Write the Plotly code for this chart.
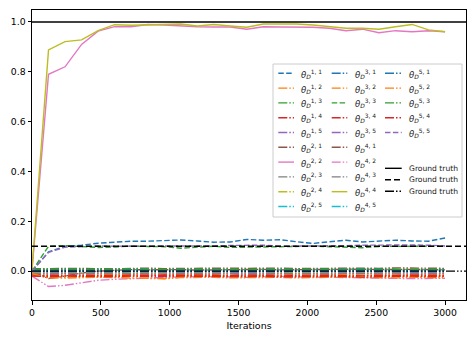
import plotly.graph_objects as go

# iterations (x)
iters = [0, 120, 240, 360, 480, 600, 720, 840, 960, 1080, 1200, 1320, 1440,
         1560, 1680, 1800, 1920, 2040, 2160, 2280, 2400, 2520, 2640, 2760, 2880, 3000]

# estimated theta_D^{i,j}
t11 = [0.0, 0.077, 0.1, 0.104, 0.112, 0.117, 0.12, 0.12, 0.123, 0.125, 0.121, 0.116, 0.117,
       0.127, 0.124, 0.126, 0.118, 0.111, 0.118, 0.124, 0.117, 0.12, 0.124, 0.121, 0.12, 0.133]
t12 = [-0.015, -0.025, -0.028, -0.026, -0.022, -0.02, -0.021, -0.024, -0.03, -0.022, -0.02, -0.021, -0.023,
       -0.02, -0.019, -0.022, -0.024, -0.021, -0.02, -0.022, -0.025, -0.021, -0.02, -0.023, -0.022, -0.021]
t13 = [0.005, 0.006, 0.004, 0.005, 0.006, 0.007, 0.005, 0.004, 0.006, 0.007, 0.006, 0.004, 0.005,
       0.006, 0.005, 0.004, 0.006, 0.005, 0.004, 0.006, 0.007, 0.005, 0.004, 0.006, 0.005, 0.005]
t14 = [-0.01, -0.012, -0.01, -0.009, -0.011, -0.012, -0.01, -0.011, -0.013, -0.012, -0.01, -0.009, -0.011,
       -0.012, -0.01, -0.011, -0.012, -0.01, -0.013, -0.011, -0.01, -0.012, -0.011, -0.013, -0.012, -0.011]
t15 = [0.0, -0.002, 0.001, 0.0, -0.001, 0.002, 0.001, -0.001, 0.0, 0.002, 0.001, 0.0, -0.002,
       0.001, 0.0, 0.001, -0.001, 0.002, 0.0, -0.001, 0.001, 0.002, 0.0, -0.001, 0.001, 0.0]
t21 = [0.0, -0.03, -0.02, -0.008, 0.0, 0.004, 0.006, 0.005, 0.007, 0.006, 0.004, 0.005, 0.006,
       0.008, 0.007, 0.005, 0.006, 0.007, 0.005, 0.006, 0.008, 0.006, 0.005, 0.007, 0.006, 0.005]
t22 = [0.005, 0.79, 0.82, 0.91, 0.963, 0.981, 0.981, 0.99, 0.988, 0.983, 0.981, 0.98, 0.98,
       0.971, 0.981, 0.98, 0.981, 0.979, 0.975, 0.965, 0.971, 0.957, 0.965, 0.961, 0.965, 0.961]
t23 = [0.002, 0.0, -0.002, 0.001, 0.0, -0.001, 0.002, 0.001, 0.0, -0.002, 0.001, 0.0, 0.001,
       -0.001, 0.002, 0.0, 0.001, -0.002, 0.0, 0.001, 0.002, 0.0, -0.001, 0.001, 0.0, 0.001]
t24 = [-0.005, -0.006, -0.004, -0.005, -0.007, -0.006, -0.004, -0.005, -0.006, -0.007, -0.005, -0.004, -0.006,
       -0.005, -0.004, -0.006, -0.007, -0.005, -0.004, -0.006, -0.005, -0.007, -0.006, -0.004, -0.005, -0.006]
t25 = [0.003, 0.002, 0.001, 0.003, 0.002, 0.0, 0.001, 0.003, 0.002, 0.001, 0.0, 0.002, 0.003,
       0.001, 0.002, 0.0, 0.001, 0.003, 0.002, 0.001, 0.0, 0.002, 0.003, 0.001, 0.002, 0.001]
t31 = [0.008, 0.004, 0.006, 0.008, 0.007, 0.005, 0.006, 0.008, 0.007, 0.005, 0.006, 0.007, 0.008,
       0.006, 0.005, 0.007, 0.008, 0.006, 0.005, 0.007, 0.006, 0.008, 0.007, 0.005, 0.006, 0.007]
t32 = [-0.02, -0.018, -0.02, -0.017, -0.015, -0.014, -0.016, -0.015, -0.017, -0.016, -0.014, -0.015, -0.017,
       -0.016, -0.015, -0.014, -0.016, -0.017, -0.015, -0.014, -0.016, -0.015, -0.017, -0.016, -0.015, -0.016]
t33 = [0.0, 0.1, 0.102, 0.098, 0.095, 0.097, 0.1, 0.099, 0.098, 0.092, 0.097, 0.1, 0.095,
       0.096, 0.1, 0.101, 0.099, 0.1, 0.098, 0.097, 0.094, 0.099, 0.1, 0.098, 0.1, 0.1]
t34 = [-0.015, -0.018, -0.016, -0.017, -0.019, -0.018, -0.016, -0.017, -0.019, -0.018, -0.016, -0.017, -0.018,
       -0.016, -0.017, -0.019, -0.018, -0.016, -0.017, -0.018, -0.019, -0.017, -0.016, -0.018, -0.017, -0.018]
t35 = [-0.003, -0.005, -0.004, -0.003, -0.005, -0.004, -0.002, -0.003, -0.005, -0.004, -0.003, -0.002, -0.004,
       -0.005, -0.003, -0.004, -0.002, -0.003, -0.005, -0.004, -0.003, -0.002, -0.004, -0.005, -0.003, -0.004]
t41 = [0.01, 0.009, 0.011, 0.012, 0.01, 0.009, 0.011, 0.012, 0.01, 0.011, 0.009, 0.01, 0.012,
       0.011, 0.013, 0.012, 0.01, 0.009, 0.011, 0.012, 0.01, 0.011, 0.013, 0.012, 0.01, 0.011]
t42 = [-0.02, -0.062, -0.057, -0.048, -0.037, -0.033, -0.03, -0.028, -0.025, -0.023, -0.022, -0.021, -0.023,
       -0.025, -0.022, -0.021, -0.023, -0.024, -0.026, -0.028, -0.03, -0.031, -0.029, -0.03, -0.028, -0.029]
t43 = [-0.01, -0.008, -0.009, -0.01, -0.008, -0.007, -0.009, -0.01, -0.008, -0.009, -0.007, -0.008, -0.01,
       -0.009, -0.008, -0.007, -0.009, -0.01, -0.008, -0.009, -0.01, -0.008, -0.007, -0.009, -0.008, -0.009]
t44 = [0.005, 0.888, 0.921, 0.928, 0.965, 0.989, 0.987, 0.989, 0.99, 0.992, 0.984, 0.99, 0.984,
       0.979, 0.992, 0.992, 0.992, 0.988, 0.981, 0.975, 0.975, 0.971, 0.981, 0.99, 0.968, 0.961]
t45 = [0.0, 0.002, 0.0, -0.001, 0.001, 0.0, -0.002, 0.001, 0.0, 0.002, -0.001, 0.0, 0.001,
       0.0, -0.001, 0.002, 0.0, 0.001, -0.001, 0.0, 0.002, 0.001, 0.0, -0.001, 0.001, 0.0]
t51 = [0.004, 0.0, 0.002, 0.003, 0.001, 0.002, 0.0, 0.003, 0.002, 0.001, 0.003, 0.002, 0.0,
       0.002, 0.003, 0.001, 0.002, 0.0, 0.003, 0.002, 0.001, 0.003, 0.002, 0.0, 0.002, 0.003]
t52 = [-0.01, -0.028, -0.025, -0.022, -0.024, -0.026, -0.025, -0.027, -0.031, -0.026, -0.024, -0.025, -0.027,
       -0.026, -0.024, -0.025, -0.027, -0.026, -0.025, -0.024, -0.026, -0.028, -0.027, -0.025, -0.026, -0.027]
t53 = [0.008, 0.01, 0.009, 0.008, 0.007, 0.009, 0.01, 0.008, 0.007, 0.009, 0.008, 0.01, 0.009,
       0.007, 0.008, 0.01, 0.009, 0.008, 0.007, 0.009, 0.01, 0.008, 0.009, 0.007, 0.008, 0.009]
t54 = [-0.02, -0.022, -0.02, -0.021, -0.023, -0.022, -0.02, -0.021, -0.022, -0.02, -0.019, -0.021, -0.022,
       -0.02, -0.021, -0.023, -0.022, -0.02, -0.021, -0.022, -0.024, -0.022, -0.021, -0.02, -0.022, -0.021]
t55 = [0.0, 0.075, 0.096, 0.1, 0.101, 0.1, 0.1, 0.101, 0.1, 0.099, 0.1, 0.101, 0.103,
       0.105, 0.104, 0.1, 0.1, 0.101, 0.1, 0.102, 0.104, 0.105, 0.104, 0.105, 0.104, 0.101]

# ground truth levels and the span of the x axis
gt_levels = [1.0, 0.1, 0.0]
gt_span = [0, 3152]

series = {
    (1, 1): t11, (1, 2): t12, (1, 3): t13, (1, 4): t14, (1, 5): t15,
    (2, 1): t21, (2, 2): t22, (2, 3): t23, (2, 4): t24, (2, 5): t25,
    (3, 1): t31, (3, 2): t32, (3, 3): t33, (3, 4): t34, (3, 5): t35,
    (4, 1): t41, (4, 2): t42, (4, 3): t43, (4, 4): t44, (4, 5): t45,
    (5, 1): t51, (5, 2): t52, (5, 3): t53, (5, 4): t54, (5, 5): t55,
}

tab10 = ['#1f77b4', '#ff7f0e', '#2ca02c', '#d62728', '#9467bd',
         '#8c564b', '#e377c2', '#7f7f7f', '#bcbd22', '#17becf']
DASHED = '5.5px,2.4px'
DASHDOT = '9px,2px,1.5px,2px,1.5px,2px'
FONT = 'DejaVu Sans'


def style(i, j):
    if (i, j) in [(2, 2), (4, 4)]:
        return 'solid'
    if (i, j) in [(1, 1), (3, 3), (5, 5)]:
        return DASHED
    return DASHDOT


fig = go.Figure()
k = 0
for (i, j), ys in series.items():
    fig.add_trace(go.Scatter(x=iters, y=ys, mode='lines', showlegend=False,
                             line=dict(color=tab10[k % 10], width=1.4, dash=style(i, j))))
    k += 1

gt_dash = ['solid', '6px,3px', DASHDOT]
for lv, d in zip(gt_levels, gt_dash):
    fig.add_trace(go.Scatter(x=gt_span, y=[lv, lv], mode='lines', showlegend=False,
                             line=dict(color='black', width=1.4, dash=d)))

# the page body has an 8px margin, so the figure is made smaller and
# everything below is given in window pixels
PAGE = 8
W, H = 476 - PAGE, 340 - PAGE
L, R, T, B = 32, 466, 10, 300


def px(p):
    return (p - L) / (R - L)


def py(p):
    return (B - p) / (B - T)


shapes = [dict(type='rect', xref='paper', yref='paper', layer='above',
               x0=px(273), x1=px(462), y0=py(217), y1=py(64),
               fillcolor='rgba(255,255,255,0.8)', line=dict(color='#cccccc', width=1))]
annotations = []

col_x = [(278.3, 294, 299), (331.7, 347.3, 353), (385, 401.7, 406.5)]
k = 0
for (i, j) in series:
    c = (i - 1) // 2
    r = ((i - 1) % 2) * 5 + (j - 1)
    yy = 73.3 + 14.8 * r
    h0, h1, tx = col_x[c]
    shapes.append(dict(type='line', xref='paper', yref='paper', layer='above',
                       x0=px(h0), x1=px(h1), y0=py(yy), y1=py(yy),
                       line=dict(color=tab10[k % 10], width=1.4, dash=style(i, j))))
    annotations.append(dict(xref='paper', yref='paper', x=px(tx), y=py(yy + 0.5),
                            xanchor='left', yanchor='middle', showarrow=False,
                            text='<i>θ</i><sub><i>D</i></sub><sup>%d, %d</sup>' % (i, j),
                            font=dict(family=FONT, size=8.5, color='#222')))
    k += 1

for yy, d in zip([168.3, 179.7, 191.2], gt_dash):
    h0, h1, tx = col_x[2]
    shapes.append(dict(type='line', xref='paper', yref='paper', layer='above',
                       x0=px(h0), x1=px(h1), y0=py(yy), y1=py(yy),
                       line=dict(color='black', width=1.4, dash=d)))
    annotations.append(dict(xref='paper', yref='paper', x=px(tx), y=py(yy),
                            xanchor='left', yanchor='middle', showarrow=False,
                            text='Ground truth', font=dict(family=FONT, size=7.6, color='#222')))

axis_style = dict(showline=True, mirror=True, linecolor='black', linewidth=1,
                  ticks='outside', ticklen=3.5, tickcolor='black', tickwidth=1,
                  showgrid=False, zeroline=False, automargin=False,
                  tickfont=dict(family=FONT, size=9.3, color='black'))

fig.update_layout(
    width=W, height=H,
    margin=dict(l=L - PAGE, r=476 - R, t=T - PAGE, b=340 - B),
    plot_bgcolor='white', paper_bgcolor='white',
    shapes=shapes, annotations=annotations,
    xaxis=dict(range=gt_span, tickvals=[0, 500, 1000, 1500, 2000, 2500, 3000],
               title=dict(text='Iterations', font=dict(family=FONT, size=9.5, color='black'), standoff=5),
               **axis_style),
    yaxis=dict(range=[-0.116, 1.048], tickvals=[0, 0.2, 0.4, 0.6, 0.8, 1.0], tickformat='.1f',
               **axis_style),
)

fig.write_html("out.html")
